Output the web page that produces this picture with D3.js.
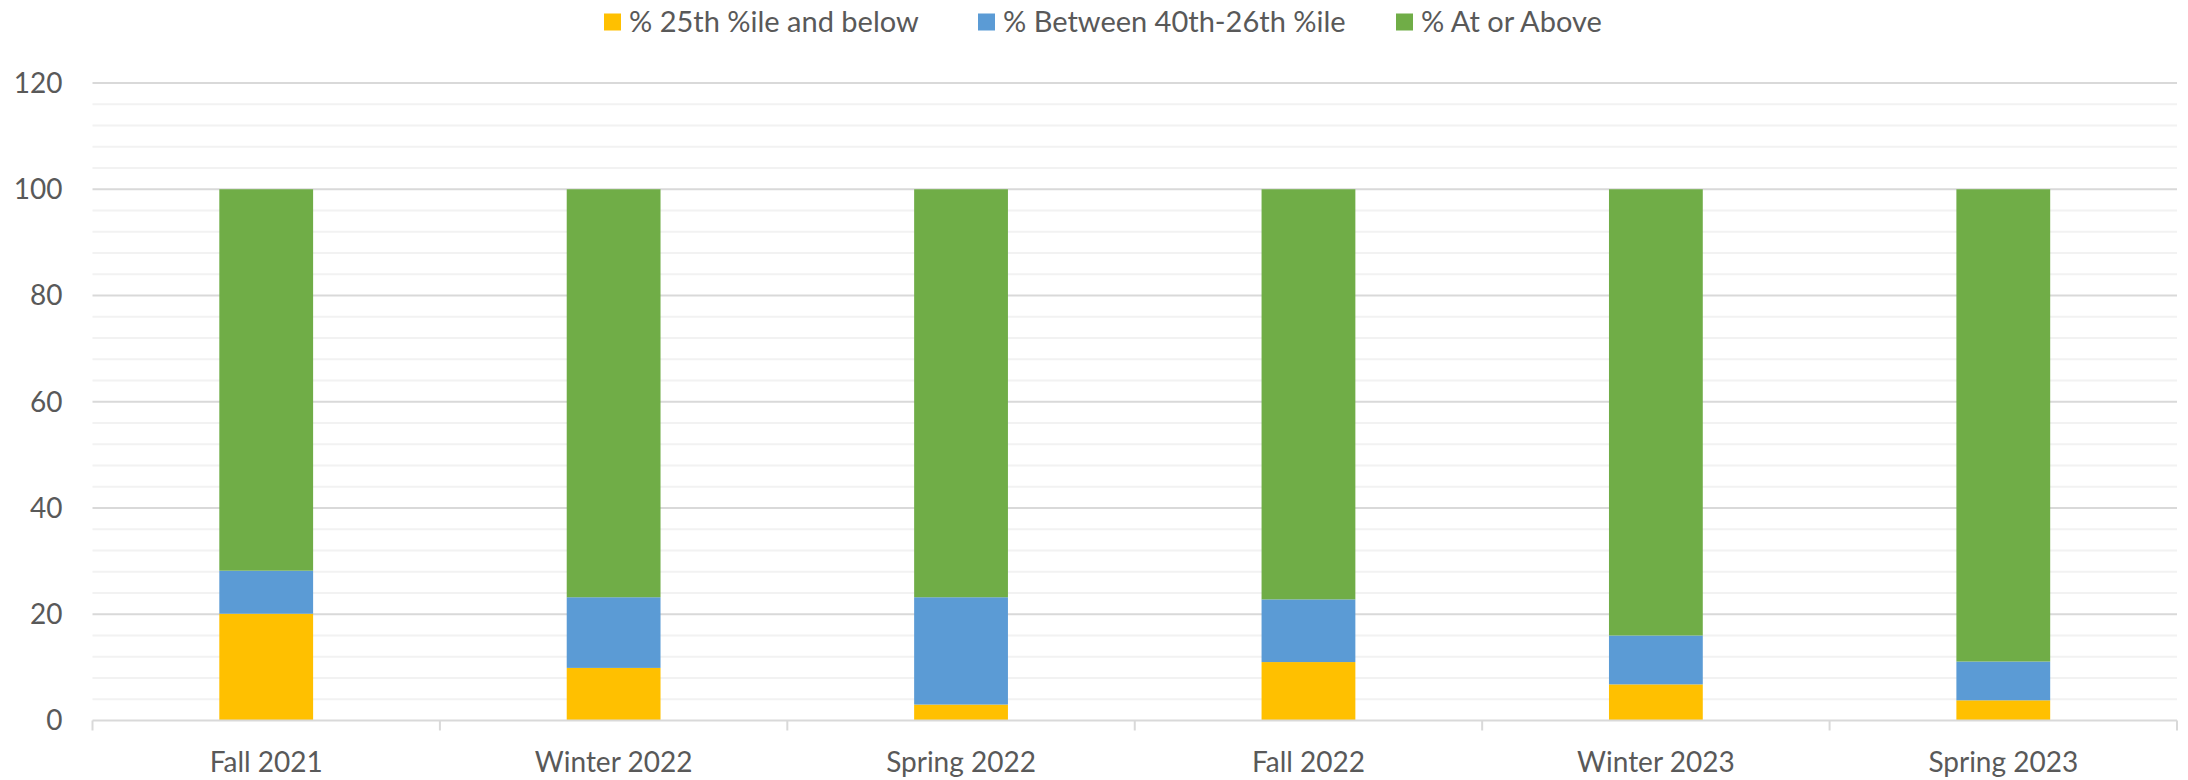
<!DOCTYPE html>
<html>
<head>
<meta charset="utf-8">
<script src="https://cdn.jsdelivr.net/npm/d3@7"></script>
<style>
  body { margin: 0; background: #fff; }
  text { font-family: Lato, "Noto Sans", sans-serif; fill: #595959; }
</style>
</head>
<body>
<script>
// stacked percentile bars

const terms = ["Fall 2021", "Winter 2022", "Spring 2022", "Fall 2022", "Winter 2023", "Spring 2023"];
const seriesNames = ["% 25th %ile and below", "% Between 40th-26th %ile", "% At or Above"];
const below25 = [20.1, 9.9, 3.0, 11.0, 6.8, 3.8];
const between = [8.1, 13.3, 20.2, 11.8, 9.2, 7.3];
const atAbove = [71.8, 76.8, 76.8, 77.2, 84.0, 88.9];
const yTicks = [0, 20, 40, 60, 80, 100, 120];
const colors = ["#FFC000", "#5B9BD5", "#70AD47"];

const width = 2188, height = 780;
const margin = {top: 83, right: 11, bottom: 59.5, left: 92.5};
const innerW = width - margin.left - margin.right;
const innerH = height - margin.top - margin.bottom;
const fontPx = "28px";

const svg = d3.select("body").append("svg")
  .attr("width", width)
  .attr("height", height);

const g = svg.append("g")
  .attr("transform", "translate(" + margin.left + "," + margin.top + ")");

const x = d3.scaleBand().domain(terms).range([0, innerW]).paddingInner(0).paddingOuter(0);
const y = d3.scaleLinear().domain([0, 120]).range([innerH, 0]);

// minor gridlines every 4
g.selectAll(".minor")
  .data(d3.range(4, 120, 4).filter(v => v % 20 != 0))
  .join("line")
  .attr("x1", 0).attr("x2", innerW)
  .attr("y1", d => y(d)).attr("y2", d => y(d))
  .attr("stroke", "#f2f2f2").attr("stroke-width", 2);

// major gridlines
g.selectAll(".major")
  .data(yTicks.filter(v => v > 0))
  .join("line")
  .attr("x1", 0).attr("x2", innerW)
  .attr("y1", d => y(d)).attr("y2", d => y(d))
  .attr("stroke", "#d9d9d9").attr("stroke-width", 2);

// y labels
g.selectAll(".ylab")
  .data(yTicks)
  .join("text")
  .attr("x", -30)
  .attr("y", d => y(d))
  .attr("dy", "0.35em")
  .attr("text-anchor", "end")
  .style("font-size", fontPx)
  .text(d => d);

// stacked data
const rows = terms.map((t, i) => ({term: t, a: below25[i], b: between[i], c: atAbove[i]}));
const stack = d3.stack().keys(["a", "b", "c"])(rows);

const barW = x.bandwidth() * 0.27;

g.selectAll(".layer")
  .data(stack)
  .join("g")
  .attr("fill", (d, i) => colors[i])
  .selectAll("rect")
  .data(d => d)
  .join("rect")
  .attr("x", d => x(d.data.term) + (x.bandwidth() - barW) / 2)
  .attr("y", d => y(d[1]))
  .attr("height", d => y(d[0]) - y(d[1]))
  .attr("width", barW);

// x axis line + ticks
g.append("line")
  .attr("x1", 0).attr("x2", innerW)
  .attr("y1", innerH).attr("y2", innerH)
  .attr("stroke", "#d9d9d9").attr("stroke-width", 2);

const tickPos = terms.map(t => x(t)).concat([innerW]);
g.selectAll(".xtick")
  .data(tickPos)
  .join("line")
  .attr("x1", d => d).attr("x2", d => d)
  .attr("y1", innerH).attr("y2", innerH + 10)
  .attr("stroke", "#d9d9d9").attr("stroke-width", 2);

g.selectAll(".xlab")
  .data(terms)
  .join("text")
  .attr("x", d => x(d) + x.bandwidth() / 2)
  .attr("y", innerH + 42)
  .attr("dy", "0.35em")
  .attr("text-anchor", "middle")
  .style("font-size", fontPx)
  .text(d => d);

// legend
const legendX = [604, 978, 1396];
const legend = svg.selectAll(".legend")
  .data(seriesNames)
  .join("g")
  .attr("transform", (d, i) => "translate(" + legendX[i] + ",22)");

legend.append("rect")
  .attr("x", 0).attr("y", -8.5)
  .attr("width", 17).attr("height", 17)
  .attr("fill", (d, i) => colors[i]);

legend.append("text")
  .attr("x", 25)
  .attr("dy", "0.35em")
  .style("font-size", "29px")
  .text(d => d);
</script>
</body>
</html>
